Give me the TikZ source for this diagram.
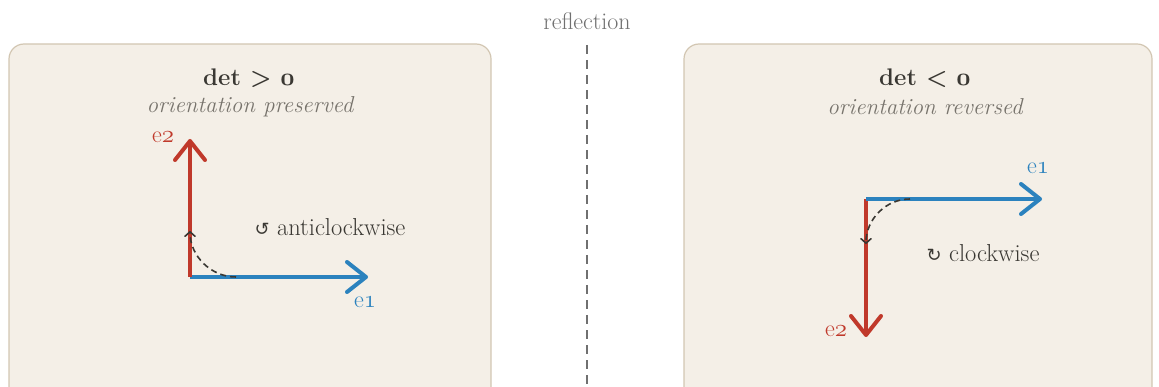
\documentclass[tikz,border=0pt]{standalone}
\usepackage{fontspec}
\newfontfamily\symfont{DejaVu Sans}
\usetikzlibrary{arrows.meta}
\definecolor{boxfill}{HTML}{F4EFE7}
\definecolor{boxline}{HTML}{D2C6B2}
\definecolor{vred}{HTML}{C0392B}
\definecolor{vblue}{HTML}{2B82BE}
\definecolor{ink}{HTML}{3A3833}
\definecolor{subgray}{HTML}{77736C}
\definecolor{refgray}{HTML}{707070}
\newcommand{\osn}[1]{{\usefont{OML}{cmm}{m}{it}#1}}
\newcommand{\osnb}[1]{{\usefont{OML}{cmm}{b}{it}#1}}
\tikzset{
  panel/.style={draw=boxline, line width=1.2pt, fill=boxfill, rounded corners=15pt},
  vec/.style={line width=4pt, -{Straight Barb[length=19pt,width=30pt,round]}},
  rot/.style={ink, line width=1.6pt, dash pattern=on 6pt off 4pt, -{Straight Barb[length=4.5pt,width=10pt,round]}},
  title/.style={text=ink, font=\fontsize{24}{28}\selectfont\bfseries},
  sub/.style={text=subgray, font=\fontsize{23}{27}\selectfont\itshape},
  lab/.style={font=\fontsize{24}{28}\selectfont},
  note/.style={text=ink, font=\fontsize{24.5}{28}\selectfont},
  mirror/.style={refgray, line width=1.5pt, dash pattern=on 9pt off 6pt}
}
\begin{document}
\begin{tikzpicture}[x=1pt,y=-1pt]
\useasboundingbox (0,0) rectangle (1159,387);
\clip (0,0) rectangle (1159,387);
% panels
\draw[panel] (9,44) rectangle (491,420);
\draw[panel] (684,44) rectangle (1152,420);
% mirror line
\node[text=refgray, font=\fontsize{24}{28}\selectfont] (refl) at (587,21) {reflection};
\coordinate (mtop) at (587,45);
\coordinate (mbot) at (587,395);
\draw[mirror] (mtop) -- (mbot);
% left panel
\node[title] (tl) at (249,78) {det > \osnb{0}};
\node[sub] (sl) at (250,107) {orientation preserved};
\coordinate (ol) at (190,277);
\coordinate (e2l) at (190,139);
\coordinate (e1l) at (368,277);
\draw[vec, vblue] (ol) -- (e1l);
\draw[vec, vred] (ol) -- (e2l);
\node[lab, text=vred] (le2l) at (163,137) {e\osn{2}};
\node[lab, text=vblue] (le1l) at (365,302) {e\osn{1}};
\coordinate (al0) at (236,277);
\coordinate (al1) at (190,231);
\draw[rot] (al0) .. controls (211,277) and (190,256) .. (al1);
\node[note] (ccw) at (330,227) {{\symfont\fontsize{18}{20}\selectfont ↺} anticlockwise};
% right panel
\node[title] (tr) at (925,78) {det < \osnb{0}};
\node[sub] (sr) at (925,107) {orientation reversed};
\coordinate (or) at (866,199);
\coordinate (e1r) at (1042,199);
\coordinate (e2r) at (866,337);
\draw[vec, vred] (or) -- (e2r);
\draw[vec, vblue] (or) -- (e1r);
\node[lab, text=vblue] (le1r) at (1038,168) {e\osn{1}};
\node[lab, text=vred] (le2r) at (836,331) {e\osn{2}};
\coordinate (ar0) at (910,199);
\coordinate (ar1) at (866,244);
\draw[rot] (ar0) .. controls (886,199) and (866,219) .. (ar1);
\node[note] (cw) at (983,253) {{\symfont\fontsize{18}{20}\selectfont ↻} clockwise};
\end{tikzpicture}
\end{document}
